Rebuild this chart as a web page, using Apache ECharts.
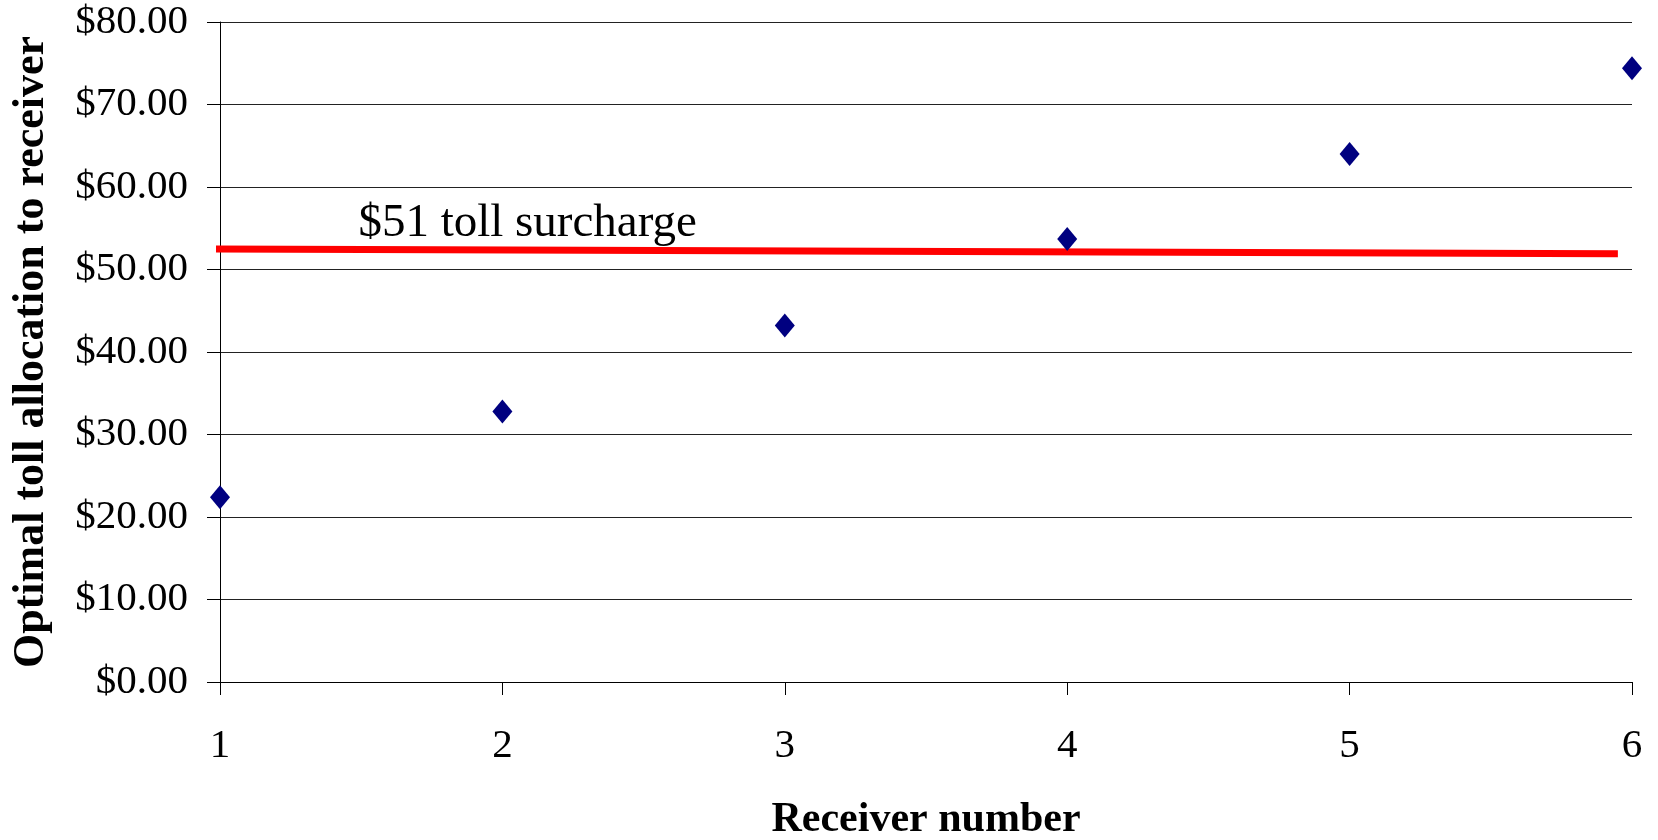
<!DOCTYPE html>
<html>
<head>
<meta charset="utf-8">
<script src="https://cdn.jsdelivr.net/npm/echarts@6/dist/echarts.min.js"></script>
<style>
  html, body { margin: 0; padding: 0; background: #fff; }
  #chart { width: 1658px; height: 840px; }
</style>
</head>
<body>
<div id="chart"></div>
<script>
// Receivers and their optimal toll allocation (dollars)
const receivers = [1, 2, 3, 4, 5, 6];
const tollAllocation = [22.4, 32.8, 43.2, 53.7, 64.0, 74.4];

// Hand-drawn surcharge reference line: [receiver position, dollars]
const surchargeLineX = [0.977, 5.95];
const surchargeLineY = [52.5, 51.9];
const surchargeText = '$51 toll surcharge';

// Axis ticks
const yTicks = [0, 10, 20, 30, 40, 50, 60, 70, 80];

const FONT = '"Liberation Serif", "Times New Roman", serif';

const chart = echarts.init(document.getElementById('chart'), null, { renderer: 'canvas' });

const points = receivers.map((r, i) => [r, tollAllocation[i]]);
const surchargeLine = surchargeLineX.map((x, i) => [x, surchargeLineY[i]]);

chart.setOption({
  animation: false,
  backgroundColor: '#ffffff',
  grid: {
    left: 220, right: 26, top: 22, bottom: 158,
    containLabel: false,
    outerBoundsMode: 'none'
  },
  xAxis: {
    type: 'value',
    min: 1, max: 6, interval: 1,
    name: 'Receiver number',
    nameLocation: 'middle',
    nameGap: 117,
    nameTextStyle: { fontFamily: FONT, fontSize: 42, fontWeight: 'bold', color: '#000' },
    axisLine: { show: true, lineStyle: { color: '#000', width: 1 } },
    axisTick: { show: true, length: 13, lineStyle: { color: '#000', width: 1 } },
    axisLabel: { fontFamily: FONT, fontSize: 41, color: '#000', margin: 44 },
    splitLine: { show: false }
  },
  yAxis: {
    type: 'value',
    min: yTicks[0], max: yTicks[yTicks.length - 1], interval: 10,
    name: 'Optimal toll allocation to receiver',
    nameLocation: 'middle',
    nameGap: 166,
    nameTextStyle: { fontFamily: FONT, fontSize: 44, fontWeight: 'bold', color: '#000' },
    axisLine: { show: true, lineStyle: { color: '#000', width: 1 } },
    axisTick: { show: true, length: 13, lineStyle: { color: '#000', width: 1 } },
    axisLabel: {
      fontFamily: FONT, fontSize: 41, color: '#000', margin: 32,
      formatter: v => '$' + v.toFixed(2)
    },
    splitLine: { show: true, lineStyle: { color: '#222', width: 1 } }
  },
  series: [
    {
      name: 'Surcharge',
      type: 'line',
      data: surchargeLine,
      clip: false,
      symbol: 'none',
      lineStyle: { color: '#ff0000', width: 7 },
      z: 2,
      markPoint: {
        symbol: 'circle',
        symbolSize: 0,
        data: [{ coord: [1.49, 55.6], value: surchargeText }],
        label: {
          show: true,
          position: 'inside',
          align: 'left',
          verticalAlign: 'middle',
          formatter: surchargeText,
          fontFamily: FONT,
          fontSize: 47,
          color: '#000'
        }
      }
    },
    {
      name: 'Toll allocation',
      type: 'scatter',
      data: points,
      clip: false,
      symbol: 'diamond',
      symbolSize: [20, 24],
      itemStyle: { color: '#000080', opacity: 1 },
      z: 3
    }
  ]
});
</script>
</body>
</html>
